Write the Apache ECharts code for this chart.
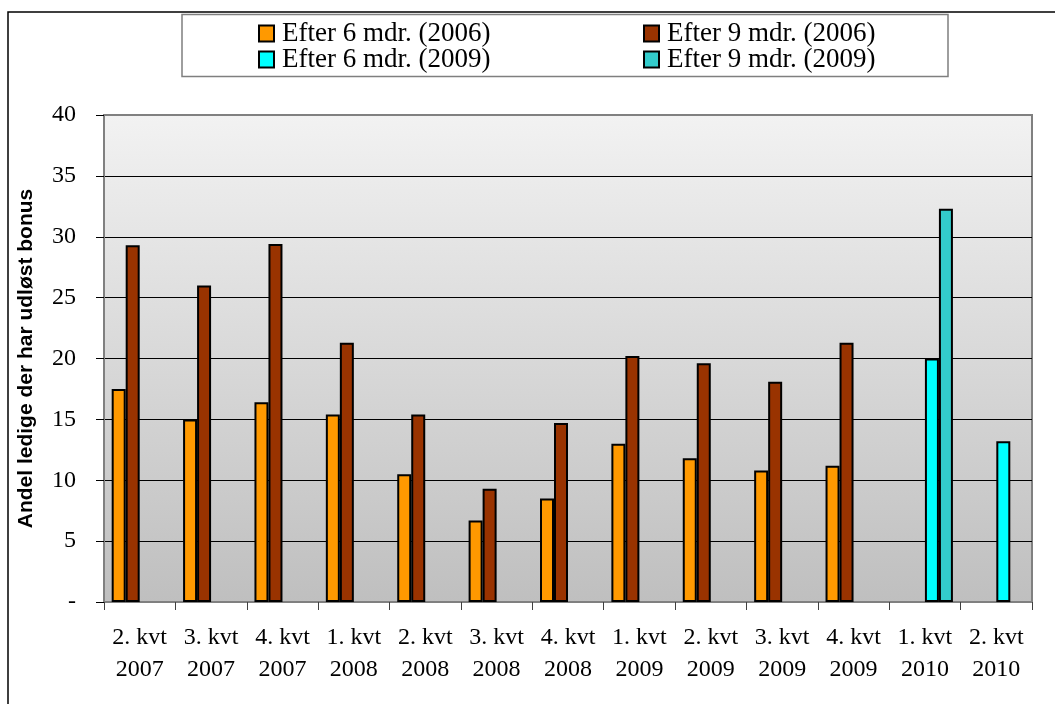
<!DOCTYPE html>
<html>
<head>
<meta charset="utf-8">
<script src="https://cdn.jsdelivr.net/npm/echarts@6/dist/echarts.min.js"></script>
<style>
html,body{margin:0;padding:0;background:#fff;}
#c{width:1055px;height:704px;}
</style>
</head>
<body>
<div id="c"></div>
<script>
const categories = ['2. kvt\n2007','3. kvt\n2007','4. kvt\n2007','1. kvt\n2008','2. kvt\n2008','3. kvt\n2008','4. kvt\n2008','1. kvt\n2009','2. kvt\n2009','3. kvt\n2009','4. kvt\n2009','1. kvt\n2010','2. kvt\n2010'];
const seriesNames = ['Efter 6 mdr. (2006)','Efter 9 mdr. (2006)','Efter 6 mdr. (2009)','Efter 9 mdr. (2009)'];
const after6_2006 = [17.5, 15.0, 16.4, 15.4, 10.5, 6.7, 8.5, 13.0, 11.8, 10.8, 11.2, null, null];
const after9_2006 = [29.3, 26.0, 29.4, 21.3, 15.4, 9.3, 14.7, 20.2, 19.6, 18.1, 21.3, null, null];
const after6_2009 = [null, null, null, null, null, null, null, null, null, null, null, 20.0, 13.2];
const after9_2009 = [null, null, null, null, null, null, null, null, null, null, null, 32.3, null];
const yTicks = [0, 5, 10, 15, 20, 25, 30, 35, 40];

const colors = ['#FF9900', '#993300', '#00FFFF', '#33CCCC'];
const values = [after6_2006, after9_2006, after6_2009, after9_2009];
const serif = 'Liberation Serif';

const chart = echarts.init(document.getElementById('c'), null, {renderer: 'canvas'});

const legendPos = [[258, 20], [643, 20], [258, 46], [643, 46]];
const legends = seriesNames.map((n, i) => ({
  data: [n],
  left: legendPos[i][0],
  top: legendPos[i][1],
  padding: 0,
  itemWidth: 15,
  itemHeight: 16,
  icon: 'rect',
  selectedMode: false,
  itemStyle: {borderColor: '#000', borderWidth: 2},
  textStyle: {fontFamily: serif, fontSize: 27, color: '#000', padding: [0, 0, 0, 3], lineHeight: 26}
}));

chart.setOption({
  animation: false,
  backgroundColor: '#fff',
  color: colors,
  graphic: [
    {type: 'rect', shape: {x: 8, y: 12, width: 1100, height: 760}, style: {fill: 'none', stroke: '#000', lineWidth: 1.5}, z: 0},
    {type: 'rect', shape: {x: 182, y: 14.5, width: 766, height: 62}, style: {fill: '#fff', stroke: '#7f7f7f', lineWidth: 1.5}, z: 0}
  ],
  legend: legends,
  grid: {
    left: 104, right: 23, top: 115, bottom: 102,
    show: true,
    borderColor: '#808080',
    borderWidth: 2,
    backgroundColor: {type: 'linear', x: 0, y: 0, x2: 0, y2: 1, colorStops: [{offset: 0, color: '#f2f2f2'}, {offset: 1, color: '#bfbfbf'}]}
  },
  xAxis: {
    type: 'category',
    data: categories,
    axisLine: {lineStyle: {color: '#808080', width: 2}},
    axisTick: {show: true, length: 8, lineStyle: {color: '#404040', width: 1}},
    axisLabel: {fontFamily: serif, fontSize: 24, color: '#000', margin: 20, lineHeight: 32, interval: 0}
  },
  yAxis: {
    type: 'value',
    min: yTicks[0],
    max: yTicks[yTicks.length - 1],
    interval: 5,
    name: 'Andel ledige der har udløst bonus',
    nameLocation: 'middle',
    nameGap: 67,
    nameTextStyle: {fontFamily: 'Liberation Sans', fontWeight: 'bold', fontSize: 21, color: '#000'},
    axisLine: {show: true, lineStyle: {color: '#808080', width: 2}},
    axisTick: {show: true, length: 8, lineStyle: {color: '#000', width: 1}},
    axisLabel: {fontFamily: serif, fontSize: 24, color: '#000', margin: 28, formatter: v => v === 0 ? '-' : String(v)},
    splitLine: {show: true, showMinLine: false, showMaxLine: false, lineStyle: {color: '#000', width: 1}}
  },
  series: values.map((d, i) => ({
    name: seriesNames[i],
    type: 'bar',
    data: d,
    barWidth: 14,
    barGap: '0%',
    itemStyle: {color: colors[i], borderColor: '#000', borderWidth: 2}
  }))
});
</script>
</body>
</html>
